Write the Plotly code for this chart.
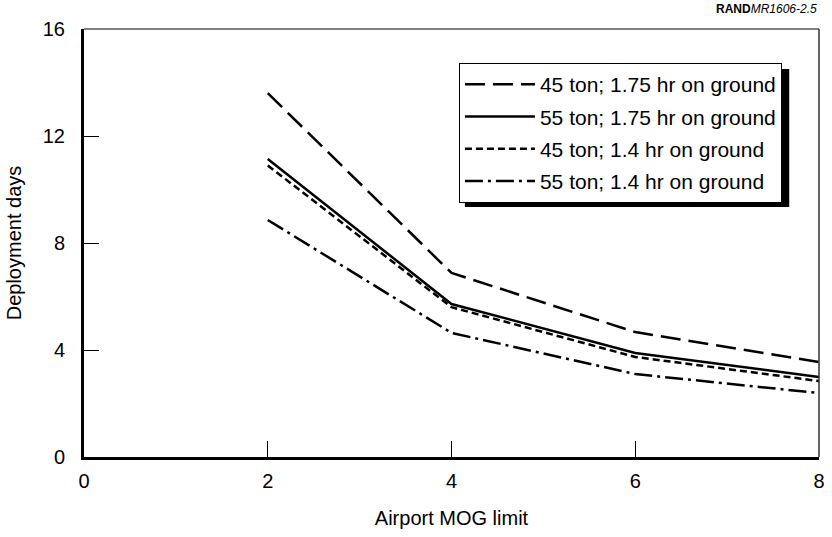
import plotly.graph_objects as go

mog = [2, 4, 6, 8]
s45_175 = [13.6, 6.88, 4.67, 3.55]
s55_175 = [11.14, 5.72, 3.89, 2.99]
s45_14 = [10.9, 5.6, 3.74, 2.84]
s55_14 = [8.86, 4.64, 3.1, 2.39]
names = ["45 ton; 1.75 hr on ground", "55 ton; 1.75 hr on ground",
         "45 ton; 1.4 hr on ground", "55 ton; 1.4 hr on ground"]
series = [s45_175, s55_175, s45_14, s55_14]
dashes = ["20px,8px", "solid", "7px,4px", "18px,5px,3px,5px"]
x_ticks = [0, 2, 4, 6, 8]
y_ticks = [0, 4, 8, 12, 16]

FONT = "Liberation Sans, Arial, sans-serif"

L, R, T, B = 84, 7, 29, 80
W, H = 832, 537
PW, PH = W - L - R, H - T - B


def px(xp):
    return (xp - L) / PW


def py(yp):
    return (H - B - yp) / PH


fig = go.Figure()
for i, (nm, ys, d) in enumerate(zip(names, series, dashes)):
    fig.add_trace(go.Scatter(x=mog, y=ys, mode="lines", name=nm,
                             legendgroup=str(i),
                             line=dict(color="black", width=2.5, dash=d)))

tickfont = dict(family=FONT, size=20, color="black")

fig.update_layout(
    width=W, height=H,
    margin=dict(l=L, r=R, t=T, b=B),
    paper_bgcolor="white", plot_bgcolor="white",
    font=dict(family=FONT, size=20, color="black"),
    showlegend=True,
    legend=dict(x=px(462), y=py(63), xanchor="left", yanchor="top",
                bgcolor="white", bordercolor="black", borderwidth=1,
                font=dict(size=21), tracegroupgap=2, itemwidth=70),
    xaxis=dict(range=[0, 8], tickvals=x_ticks, ticks="inside", ticklen=16,
               tickwidth=1, tickcolor="black", showline=True, linewidth=3,
               linecolor="black", showgrid=False, zeroline=False,
               tickfont=tickfont,
               title=dict(text="Airport MOG limit", standoff=20, font=dict(size=20)),
               ticklabelstandoff=4),
    yaxis=dict(range=[0, 16], tickvals=y_ticks, ticks="inside", ticklen=15,
               tickwidth=1, tickcolor="black", showline=True, linewidth=3,
               linecolor="black", showgrid=False, zeroline=False,
               tickfont=tickfont,
               title=dict(text="Deployment days", standoff=16, font=dict(size=20)),
               ticklabelstandoff=12),
)

# top and right frame lines (thin)
fig.add_shape(type="line", xref="paper", yref="paper", x0=0, x1=1, y0=1, y1=1,
              line=dict(color="black", width=1))
fig.add_shape(type="line", xref="paper", yref="paper", x0=1, x1=1, y0=0, y1=1,
              line=dict(color="#333", width=1.5))

# legend shadow
fig.add_shape(type="rect", xref="paper", yref="paper",
              x0=px(468), x1=px(795), y0=py(207), y1=py(69),
              fillcolor="black", line=dict(width=0), layer="above")

fig.add_annotation(text="<b>RAND</b><i>MR1606-2.5</i>", xref="paper", yref="paper",
                   x=1.0, y=1.0, yshift=11, xanchor="right", yanchor="bottom",
                   showarrow=False, font=dict(size=12, family=FONT))

fig.write_html("out.html", config={"displayModeBar": False},
               post_script="document.body.style.margin='0';")
